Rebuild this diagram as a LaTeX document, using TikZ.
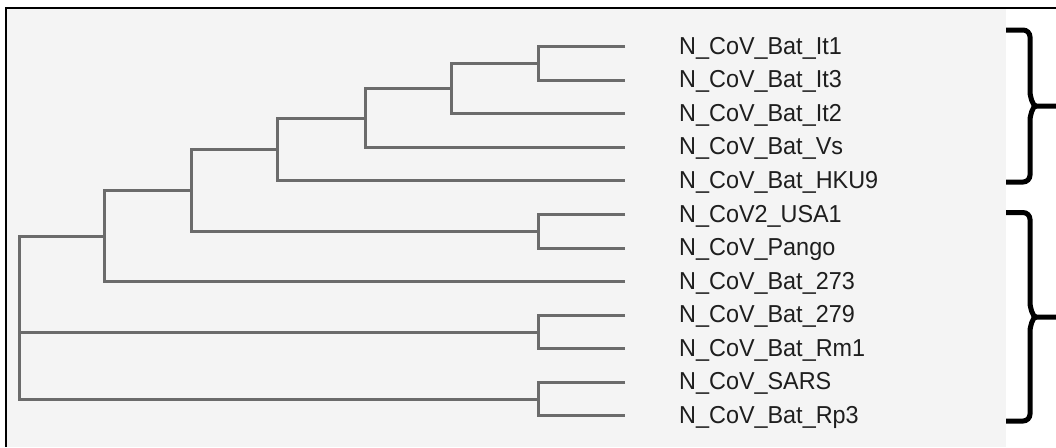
\documentclass[tikz,border=0pt]{standalone}
\usepackage{fontspec}
\setmainfont{Liberation Sans}
\newfontfamily\labfont[FakeStretch=0.955]{Liberation Sans}
\begin{document}
\begin{tikzpicture}[x=1pt,y=-1pt,
  branch/.style={draw=treegray,line width=3pt,line join=miter},
  leaflab/.style={anchor=base west,inner sep=0pt,font=\labfont\fontsize{24.5}{26}\selectfont,text=labtext},
  bracepath/.style={draw=black,line width=5pt,line cap=butt}]
\definecolor{treegray}{HTML}{6B6B6B}
\definecolor{bggray}{HTML}{F4F4F4}
\definecolor{labtext}{HTML}{1E1E1E}
\useasboundingbox (0,0) rectangle (1056,447);
\fill[white] (0,0) rectangle (1056,447);
\fill[bggray] (7,9) rectangle (1006,447);
\draw[black,line width=2pt] (1056,8) -- (6,8) -- (6,447);
% leaf tips and labels
\foreach \i/\t in {0/N\_CoV\_Bat\_It1,1/N\_CoV\_Bat\_It3,2/N\_CoV\_Bat\_It2,3/N\_CoV\_Bat\_Vs,4/N\_CoV\_Bat\_HKU9,5/N\_CoV2\_USA1,6/N\_CoV\_Pango,7/N\_CoV\_Bat\_273,8/N\_CoV\_Bat\_279,9/N\_CoV\_Bat\_Rm1,10/N\_CoV\_SARS,11/N\_CoV\_Bat\_Rp3}{
  \coordinate (t\i) at (625,{46.7+33.57*\i});
  \node[leaflab] (l\i) at (679,{46.7+33.57*\i+7.5}) {\t};
}
% internal nodes
\coordinate (A) at (538,63.5);
\coordinate (B) at (451,88.7);
\coordinate (C) at (365,118.0);
\coordinate (D) at (277,149.5);
\coordinate (E) at (538,231.3);
\coordinate (F) at (191,190.4);
\coordinate (G) at (104,236.0);
\coordinate (H) at (538,332.0);
\coordinate (I) at (538,399.2);
\coordinate (R) at (19,317.6);
% branches
\draw[branch] (t0) -| (A) |- (t1);
\draw[branch] (A) -| (B) |- (t2);
\draw[branch] (B) -| (C) |- (t3);
\draw[branch] (C) -| (D) |- (t4);
\draw[branch] (t5) -| (E) |- (t6);
\draw[branch] (D) -| (F) |- (E);
\draw[branch] (F) -| (G) |- (t7);
\draw[branch] (t8) -| (H) |- (t9);
\draw[branch] (t10) -| (I) |- (t11);
\draw[branch] (G) -| (R) |- (I);
\draw[branch] (R) |- (H);
% braces
\coordinate (b1top) at (1006,30);
\coordinate (b1bot) at (1006,182);
\coordinate (b1tip) at (1056,106);
\coordinate (b2top) at (1006,212.5);
\coordinate (b2bot) at (1006,421);
\coordinate (b2tip) at (1056,317);
\draw[bracepath,rounded corners=7pt] (b1top) -- (1030,30) -- (1030,99) to[out=90,in=180,rounded corners=0pt] (1036,106) -- (b1tip);
\draw[bracepath,rounded corners=7pt] (b1bot) -- (1030,182) -- (1030,113) to[out=-90,in=180,rounded corners=0pt] (1036,106);
\draw[bracepath,rounded corners=7pt] (b2top) -- (1030,212.5) -- (1030,310) to[out=90,in=180,rounded corners=0pt] (1036,317) -- (b2tip);
\draw[bracepath,rounded corners=7pt] (b2bot) -- (1030,421) -- (1030,324) to[out=-90,in=180,rounded corners=0pt] (1036,317);
\end{tikzpicture}
\end{document}
